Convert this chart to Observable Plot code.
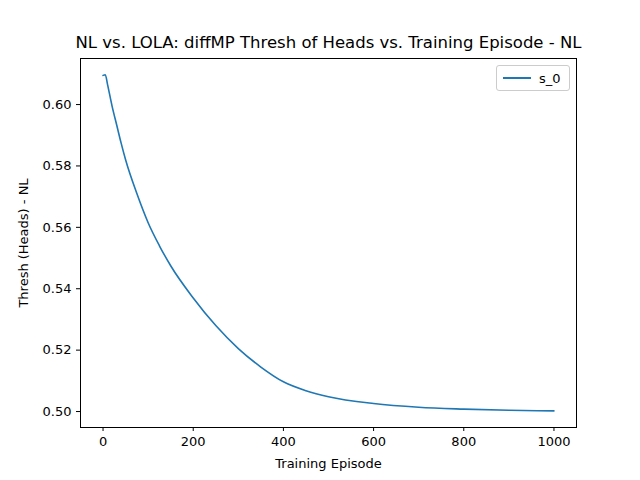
<!DOCTYPE html>
<html><head>
<script src="https://cdn.jsdelivr.net/npm/d3@7"></script>
<script src="https://cdn.jsdelivr.net/npm/@observablehq/plot@0.6"></script>
<style>
body{margin:0;background:#fff;font-family:"DejaVu Sans",sans-serif}
#wrap{position:relative;width:640px;height:480px}
#legend{position:absolute;left:496px;top:65px;width:72px;height:24px;border:1px solid #ccc;border-radius:3px;background:#fff;font-size:13px;display:flex;align-items:center}
#legend span.sw{display:inline-block;width:28px;height:2px;background:#1f77b4;margin:0 8px 0 6px}
</style>
</head><body>
<div id="wrap"><div id="chart"></div><div id="legend"><span class="sw"></span>s_0</div></div>
<script>
const episodes = [0, 5, 10, 20, 30, 40, 50, 75, 100, 125, 150, 200, 250, 300, 350, 400, 450, 500, 600, 700, 800, 900, 1000]
const thresh = [0.6095, 0.6097, 0.6065, 0.5995, 0.5935, 0.5875, 0.582, 0.571, 0.5615, 0.554, 0.5475, 0.537, 0.528, 0.5205, 0.5145, 0.5097, 0.5068, 0.5048, 0.5026, 0.5014, 0.5008, 0.5004, 0.5002]
const xTicks = [0, 200, 400, 600, 800, 1000]
const yTicks = [0.50, 0.52, 0.54, 0.56, 0.58, 0.60]
const data = episodes.map((e, i) => ({e, v: thresh[i]}))

const chart = Plot.plot({
  width: 640, height: 480,
  marginLeft: 80, marginRight: 64, marginTop: 58, marginBottom: 53,
  style: {fontFamily: "DejaVu Sans, sans-serif", fontSize: "13px", color: "#000"},
  x: {domain: [-50, 1050], ticks: xTicks, tickFormat: "d", tickSize: 4, label: "Training Episode", labelAnchor: "center", labelOffset: 40},
  y: {domain: [0.4948, 0.615], ticks: yTicks, tickFormat: ".2f", tickSize: 4, label: "Thresh (Heads) - NL", labelAnchor: "center", labelOffset: 62},
  marks: [
    Plot.frame({stroke: "#000"}),
    Plot.line(data, {x: "e", y: "v", stroke: "#1f77b4", strokeWidth: 1.6, curve: "monotone-x"}),
    Plot.text(["NL vs. LOLA: diffMP Thresh of Heads vs. Training Episode - NL"], {frameAnchor: "top", dy: -22, fontSize: 16.5, fill: "#000"})
  ]
})
chart.querySelectorAll("[aria-label$='axis label'] text").forEach(t => t.textContent = t.textContent.replace(/[↑→]/g, "").trim())
document.getElementById("chart").append(chart)
</script>
</body></html>
